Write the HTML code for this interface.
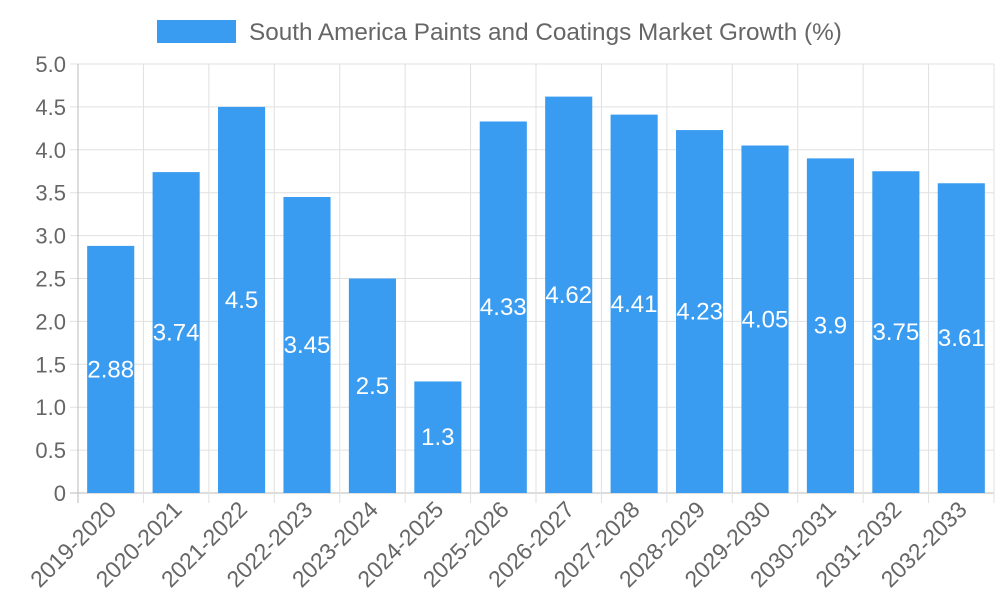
<!DOCTYPE html>
<html><head><meta charset="utf-8"><style>
html,body{margin:0;padding:0;background:#fff;}
svg text{font-family:"Liberation Sans",sans-serif;}
</style></head><body>
<svg id="chart" width="1000" height="600">
<g>
<rect x="157" y="20" width="79" height="23" fill="#3a9cf0"></rect>
<text x="249" y="40" font-size="24.3" fill="#666">South America Paints and Coatings Market Growth (%)</text>
</g>
<g id="grid"></g>
<g id="bars"></g>
<g id="labels"></g>
</svg>
<script>
const categories=["2019-2020","2020-2021","2021-2022","2022-2023","2023-2024","2024-2025","2025-2026","2026-2027","2027-2028","2028-2029","2029-2030","2030-2031","2031-2032","2032-2033"];
const values=[2.88,3.74,4.5,3.45,2.5,1.3,4.33,4.62,4.41,4.23,4.05,3.9,3.75,3.61];
const yTicks=[0,0.5,1,1.5,2,2.5,3,3.5,4,4.5,5];
const yTickLabels=["0","0.5","1.0","1.5","2.0","2.5","3.0","3.5","4.0","4.5","5.0"];
const NS="http://www.w3.org/2000/svg";
const L=78,R=994,T=64,B=493,yMax=5;
const step=(R-L)/categories.length;
function y(v){return B-(v/yMax)*(B-T);}
function xc(i){return L+step*(i+0.5);}
function mk(tag,attrs,parent){const e=document.createElementNS(NS,tag);for(const k in attrs)e.setAttribute(k,attrs[k]);parent.appendChild(e);return e;}
const grid=document.getElementById('grid'),bars=document.getElementById('bars'),labs=document.getElementById('labels');
yTicks.forEach((t,i)=>{
 const ln=mk('line',{x1:L-8,x2:R,y1:y(t),y2:y(t),stroke:i===0?'#bbb':'#e0e0e0','stroke-width':1},grid);
 
 
 const tx=mk('text',{x:L-12,y:y(t)+8,'text-anchor':'end','font-size':22,fill:'#666'},grid);
 tx.textContent=yTickLabels[i];
 
 
});
for(let i=0;i<=categories.length;i++){
 const x=L+step*i;
 const ln=mk('line',{x1:x,x2:x,y1:T,y2:B+10,stroke:i===0?'#bbb':'#e0e0e0','stroke-width':1},grid);
 
 
}
const bw=step*0.72;
categories.forEach((c,i)=>{
 const v=values[i];
 const r=mk('rect',{x:xc(i)-bw/2,y:y(v),width:bw,height:B-y(v),fill:'#3a9cf0'},bars);
 
 
 const vt=mk('text',{x:xc(i),y:(y(v)+B)/2+8,'text-anchor':'middle','font-size':24,fill:'#fff'},bars);
 vt.textContent=String(v);
 
 
 const lx=xc(i)+7,ly=B+18;
 const t=mk('text',{x:lx,y:ly,'text-anchor':'end','font-size':23,fill:'#666',transform:`rotate(-45 ${lx} ${ly})`},labs);
 t.textContent=c;
 
 
});
</script>
</body></html>
